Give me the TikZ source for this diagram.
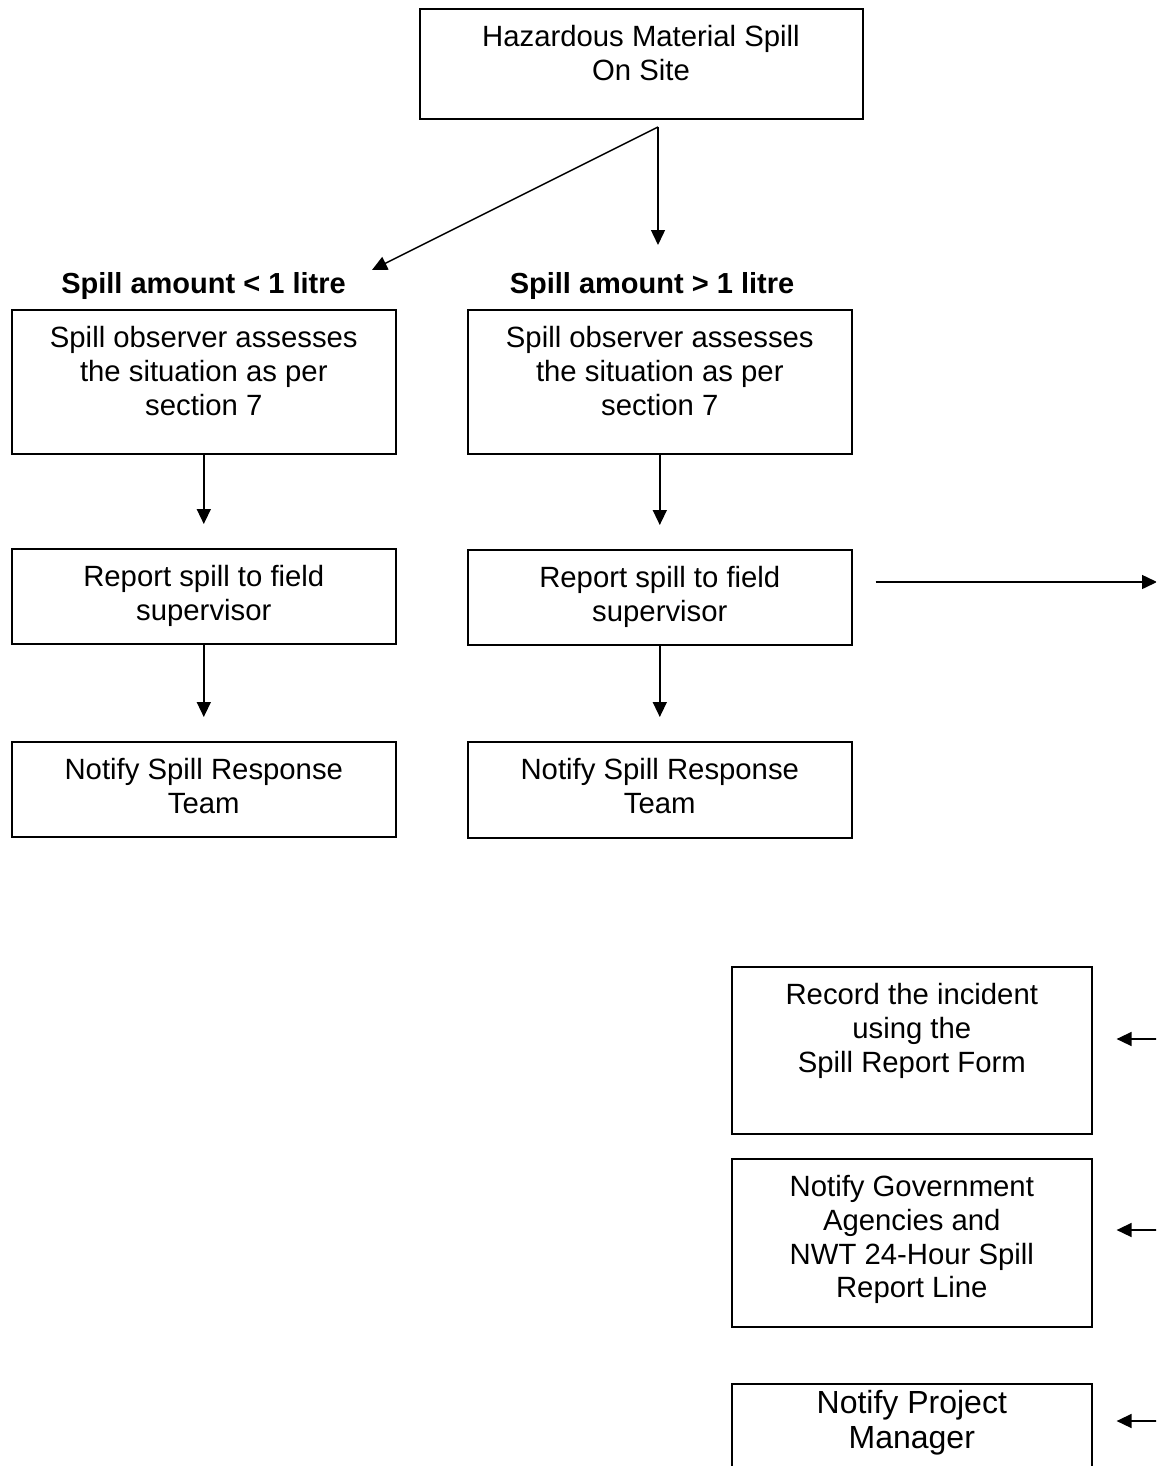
\documentclass[tikz,border=0pt]{standalone}
\usepackage{fontspec}
\setmainfont{Liberation Sans}
\usetikzlibrary{arrows.meta,calc}
\tikzset{
  box/.style={draw=black, line width=1.6pt, rectangle, inner sep=0pt, anchor=north west},
  txt/.style={align=center, inner sep=0pt, anchor=north, font=\fontsize{29.3}{33.8}\selectfont},
  bigtxt/.style={align=center, inner sep=0pt, anchor=north, font=\fontsize{32}{35.5}\selectfont},
  lab/.style={inner sep=0pt, anchor=base, font=\fontsize{29}{33}\selectfont\bfseries},
  arr/.style={line width=1.5pt, -{Triangle[length=15pt,width=14pt]}}
}
\begin{document}
\begin{tikzpicture}[x=1pt,y=-1pt]
\useasboundingbox (0,0) rectangle (1156,1466);
\clip (0,0) rectangle (1156,1466);
\fill[white] (0,0) rectangle (1156,1466);

% top box
\node[box, minimum width=443pt, minimum height=110pt] (top) at (419,8) {};
\node[txt] (toptxt) at (641,25) {Hazardous Material Spill\\On Site};

% labels
\node[lab] (labL) at (203.5,293) {Spill amount < 1 litre};
\node[lab] (labR) at (652,293) {Spill amount > 1 litre};

% left column
\node[box, minimum width=384pt, minimum height=144pt] (L1) at (11,309) {};
\node[txt] at ($(L1.north)+(0,17)$) {Spill observer assesses\\the situation as per\\section 7};
\node[box, minimum width=384pt, minimum height=95pt] (L2) at (11,548) {};
\node[txt] at ($(L2.north)+(0,17)$) {Report spill to field\\supervisor};
\node[box, minimum width=384pt, minimum height=95pt] (L3) at (11,741) {};
\node[txt] at ($(L3.north)+(0,17)$) {Notify Spill Response\\Team};

% right column
\node[box, minimum width=384pt, minimum height=144pt] (R1) at (467,309) {};
\node[txt] at ($(R1.north)+(0,17)$) {Spill observer assesses\\the situation as per\\section 7};
\node[box, minimum width=384pt, minimum height=95pt] (R2) at (467,549) {};
\node[txt] at ($(R2.north)+(0,17)$) {Report spill to field\\supervisor};
\node[box, minimum width=384pt, minimum height=96pt] (R3) at (467,741) {};
\node[txt] at ($(R3.north)+(0,17)$) {Notify Spill Response\\Team};

% lower right boxes
\node[box, minimum width=360pt, minimum height=167pt] (A) at (731,966) {};
\node[txt] at ($(A.north)+(0,17)$) {Record the incident\\using the\\Spill Report Form};
\node[box, minimum width=360pt, minimum height=168pt] (B) at (731,1158) {};
\node[txt] at ($(B.north)+(0,17)$) {Notify Government\\Agencies and\\NWT 24-Hour Spill\\Report Line};
\node[box, minimum width=360pt, minimum height=140pt] (C) at (731,1383) {};
\node[bigtxt] at ($(C.north)+(0,7)$) {Notify Project\\Manager};

% connectors
\coordinate (fork) at (658,127);
\coordinate (tipL) at (372,270);
\coordinate (tipR) at (658,245);
\draw[arr] (fork) -- (tipL);
\draw[arr] (fork) -- (tipR);

\draw[arr] (L1.south) -- ($(L2.north)+(0,-24)$);
\draw[arr] (L2.south) -- ($(L3.north)+(0,-24)$);
\draw[arr] (R1.south) -- ($(R2.north)+(0,-24)$);
\draw[arr] (R2.south) -- ($(R3.north)+(0,-24)$);

\coordinate (outR) at (1157,582);
\draw[arr] ($(R2.east |- outR)+(23,0)$) -- (outR);

\coordinate (inA) at (1160,1039);
\coordinate (inB) at (1160,1230);
\coordinate (inC) at (1160,1421);
\draw[arr] (inA) -- ($(A.east |- inA)+(24,0)$);
\draw[arr] (inB) -- ($(B.east |- inB)+(24,0)$);
\draw[arr] (inC) -- ($(C.east |- inC)+(24,0)$);
\end{tikzpicture}
\end{document}
